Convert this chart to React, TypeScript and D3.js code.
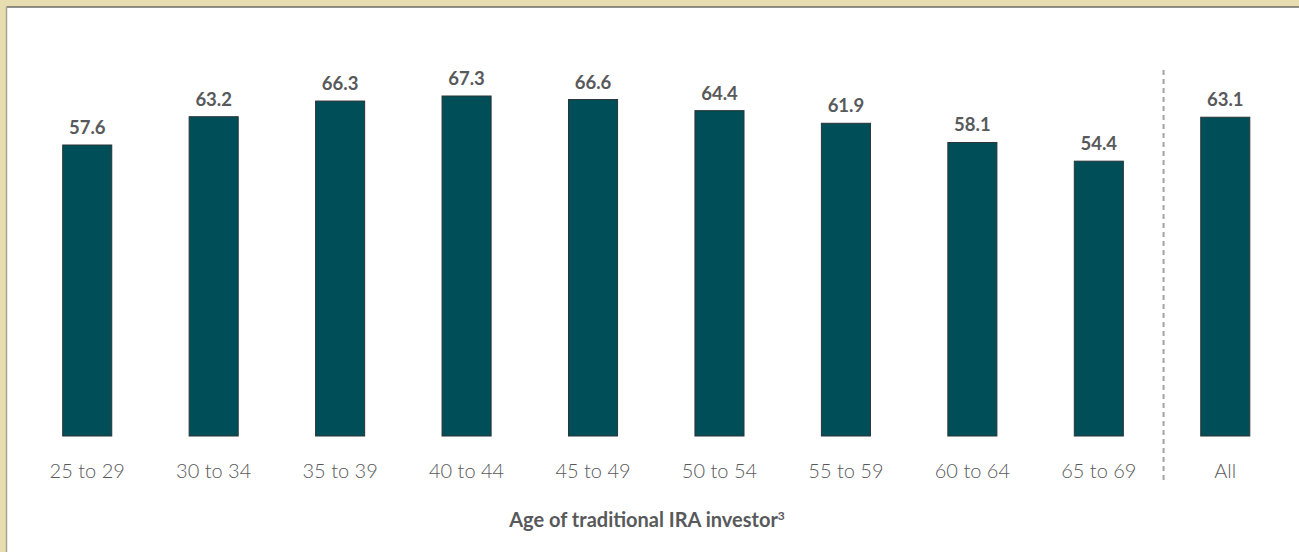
import React from "react";
import * as d3 from "d3";

const categories = ["25 to 29", "30 to 34", "35 to 39", "40 to 44", "45 to 49", "50 to 54", "55 to 59", "60 to 64", "65 to 69", "All"];
const values = [57.6, 63.2, 66.3, 67.3, 66.6, 64.4, 61.9, 58.1, 54.4, 63.1];
const axisTitle = "Age of traditional IRA investor";
const axisTitleNote = "3";

const W = 1299;
const H = 552;
const BASE_Y = 436;

export default function App() {
  const x = d3
    .scaleBand<string>()
    .domain(categories)
    .range([24, 1288.5])
    .paddingInner(0.612)
    .paddingOuter(0.306);

  const y = d3.scaleLinear().domain([0, 67.3]).range([BASE_Y, 96]);

  const lastAge = categories[categories.length - 2];
  const allCat = categories[categories.length - 1];
  const sepX =
    ((x(lastAge) ?? 0) + x.bandwidth() + (x(allCat) ?? 0)) / 2 + 1.5;

  const font = "Lato, 'Open Sans', sans-serif";

  return (
    <svg
      width={W}
      height={H}
      style={{ position: "absolute", left: 0, top: 0, display: "block" }}
    >
      {/* frame */}
      <rect x={0} y={0} width={W} height={H} fill="#e8ddb0" />
      <rect x={7} y={7} width={W - 7} height={H - 7} fill="#ffffff" />
      <line x1={6.5} y1={7} x2={W} y2={7} stroke="#6b6b66" strokeWidth={1.5} />
      <line x1={6.5} y1={7} x2={6.5} y2={H} stroke="#a8a38c" strokeWidth={1.5} />

      {/* separator between age groups and total */}
      <line
        x1={sepX}
        x2={sepX}
        y1={70}
        y2={482}
        stroke="#a3a3a3"
        strokeWidth={2}
        strokeDasharray="5,4"
      />

      {categories.map((c, i) => {
        const bx = x(c) ?? 0;
        const by = y(values[i]);
        const cx = bx + x.bandwidth() / 2;
        return (
          <g key={c}>
            <rect
              x={bx}
              y={by}
              width={x.bandwidth()}
              height={BASE_Y - by}
              fill="#004e58"
              stroke="#2a3436"
              strokeWidth={1}
            />
            <text
              x={cx}
              y={by - 11}
              textAnchor="middle"
              fontFamily={font}
              fontWeight={700}
              fontSize={18.5}
              fill="#58595b"
            >
              {values[i].toFixed(1)}
            </text>
            <text
              x={cx}
              y={478}
              textAnchor="middle"
              fontFamily={font}
              fontWeight={300}
              fontSize={20}
              fill="#58595b"
            >
              {c}
            </text>
          </g>
        );
      })}

      <text
        x={647}
        y={527}
        textAnchor="middle"
        fontFamily={font}
        fontWeight={700}
        fontSize={20}
        fill="#58595b"
      >
        {axisTitle}
        <tspan fontSize={12} dy={-7}>
          {axisTitleNote}
        </tspan>
      </text>
    </svg>
  );
}
